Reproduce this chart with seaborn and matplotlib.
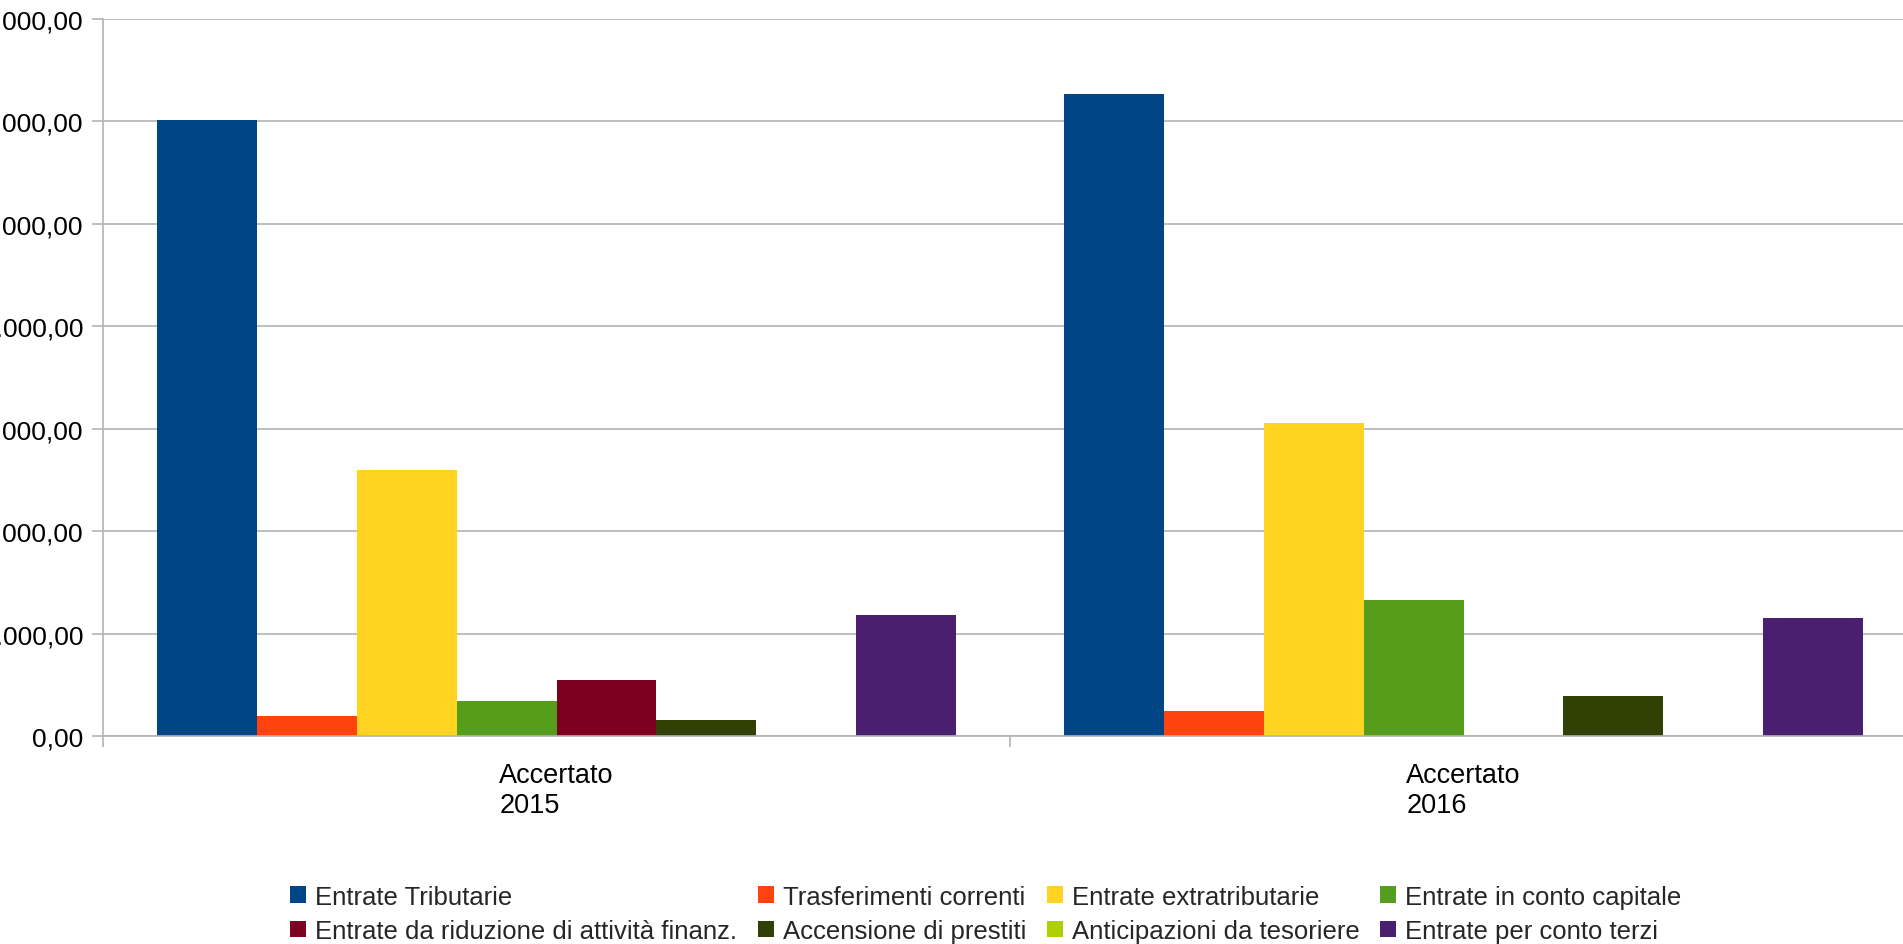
import matplotlib
matplotlib.use("Agg")
import matplotlib.pyplot as plt
from matplotlib.patches import Patch
from matplotlib.ticker import FuncFormatter, MultipleLocator, FixedLocator
import seaborn as sns
import pandas as pd

# Revenue categories and yearly assessed amounts (euro)
categories = ["Accertato\n2015", "Accertato\n2016"]
series = [
    "Entrate Tributarie",
    "Trasferimenti correnti",
    "Entrate extratributarie",
    "Entrate in conto capitale",
    "Entrate da riduzione di attività finanz.",
    "Accensione di prestiti",
    "Anticipazioni da tesoriere",
    "Entrate per conto terzi",
]
values_2015 = [6010000, 200000, 2595000, 340000, 545000, 153000, 0, 1186000]
values_2016 = [6270000, 241000, 3054000, 1325000, 0, 388000, 0, 1149000]
colors = ["#004586", "#ff420e", "#ffd320", "#579d1c",
          "#7e0021", "#314004", "#aecf00", "#4b1f6f"]

rows = []
for cat, vals in zip(categories, [values_2015, values_2016]):
    for s, v in zip(series, vals):
        rows.append({"Periodo": cat, "Voce": s, "Importo": v})
df = pd.DataFrame(rows)

sns.set_style("white")
plt.rcParams["font.family"] = ["Liberation Sans", "DejaVu Sans"]

W, H, DPI = 1903, 945, 100
fig = plt.figure(figsize=(W / DPI, H / DPI), dpi=DPI)
ax = fig.add_axes([103 / W, (H - 737) / H, 1814 / W, 717 / H])

sns.barplot(data=df, x="Periodo", y="Importo", hue="Voce",
            hue_order=series, order=categories, palette=colors,
            width=0.882, saturation=1, linewidth=0, legend=False, ax=ax)

grid_col = "#b3b3b3"
ax.set_xlim(-0.5, 1.5)
ax.set_ylim(0, 7000000)
ax.yaxis.set_major_locator(MultipleLocator(1000000))


def it_fmt(v, pos):
    s = f"{v:,.2f}"
    return s.replace(",", "X").replace(".", ",").replace("X", ".")


ax.yaxis.set_major_formatter(FuncFormatter(it_fmt))
ax.yaxis.grid(True, color=grid_col, linewidth=1.2)
ax.set_axisbelow(True)

for side in ["top", "right"]:
    ax.spines[side].set_visible(False)
for side in ["left", "bottom"]:
    ax.spines[side].set_color(grid_col)
    ax.spines[side].set_linewidth(1.2)

ax.set_xlabel("")
ax.set_ylabel("")

ax.tick_params(axis="y", which="major", length=8, width=1.2, color=grid_col,
               labelsize=19, labelcolor="black", pad=6, left=True)
ax.tick_params(axis="x", which="major", length=0, labelsize=19.5,
               labelcolor="black", pad=18.5)
ax.xaxis.set_minor_locator(FixedLocator([-0.5, 0.5, 1.5]))
ax.tick_params(axis="x", which="minor", length=8, width=1.2,
               color=grid_col, bottom=True)

for lab in ax.get_xticklabels():
    lab.set_multialignment("left")
    lab.set_linespacing(1.2)

# Legend laid out row by row in four columns
handles = [Patch(facecolor=c, edgecolor="none") for c in colors]
ncol = 4
order = [r * ncol + c for c in range(ncol) for r in range(2)]
fig.legend([handles[i] for i in order], [series[i] for i in order],
           ncol=ncol, loc="center", bbox_to_anchor=(0.518, 0.032),
           frameon=False, fontsize=18.5, handlelength=0.62, handleheight=0.62,
           handletextpad=0.35, columnspacing=0.8, labelspacing=0.4,
           borderpad=0)

fig.savefig("out.png", dpi=DPI)
